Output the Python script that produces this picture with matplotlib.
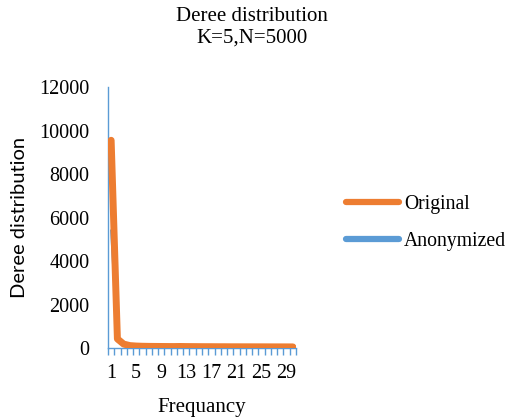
import numpy as np
import matplotlib
matplotlib.use("Agg")
import matplotlib.pyplot as plt
from matplotlib.lines import Line2D

SERIF = "Liberation Serif"
BLUE = "#5B9BD5"
ORANGE = "#ED7D31"

freq = list(range(1, 31))
original = [9550, 420, 180, 110, 90, 80, 75, 72, 70, 68, 66, 70, 66, 64, 62,
            60, 60, 58, 58, 56, 56, 55, 55, 54, 54, 53, 52, 52, 51, 50]
anonymized = [5400, 300, 120, 40, 20, 12, 8, 6, 5, 4, 4, 3, 3, 3, 2,
              2, 2, 2, 2, 2, 1, 1, 1, 1, 1, 1, 1, 1, 1, 1]
yticks = [0, 2000, 4000, 6000, 8000, 10000, 12000]

fig = plt.figure(figsize=(5.15, 4.2), dpi=100)
ax = fig.add_axes([108 / 515, 1 - 348 / 420, 188 / 515, 261 / 420])

x = np.arange(len(freq))
ax.plot(x, anonymized, color=BLUE, lw=1.5, zorder=2)
ax.plot(x, original, color=ORANGE, lw=5, solid_capstyle="round",
        solid_joinstyle="round", zorder=3)

ax.set_xlim(-0.5, len(freq) - 0.5)
ax.set_ylim(0, 12000)
ax.set_yticks(yticks)
ax.set_yticklabels([str(v) for v in yticks], fontfamily=SERIF, fontsize=14.5)
ax.set_xticks(x[::4])
ax.set_xticklabels([str(f) for f in freq[::4]], fontfamily=SERIF, fontsize=14.5)
ax.set_xticks(np.arange(-0.5, len(freq)), minor=True)
ax.tick_params(axis="y", which="major", length=0, pad=13.5)
ax.tick_params(axis="x", which="major", length=0, pad=11.5)
ax.tick_params(axis="x", which="minor", length=5, color=BLUE, width=1)

for s in ("top", "right"):
    ax.spines[s].set_visible(False)
for s in ("left", "bottom"):
    ax.spines[s].set_color(BLUE)
    ax.spines[s].set_linewidth(1)

ax.set_xlabel("Frequancy", fontfamily=SERIF, fontsize=15, labelpad=11)
ax.set_ylabel("Deree distribution", fontfamily="Lato", fontsize=14.5, labelpad=8)
fig.suptitle("Deree distribution\nK=5,N=5000", fontfamily=SERIF, fontsize=15,
             x=252 / 515, y=1 - 7 / 420, va="top", linespacing=1.2)

handles = [Line2D([], [], color=ORANGE, lw=4.5, solid_capstyle="round"),
           Line2D([], [], color=BLUE, lw=4.5, solid_capstyle="round")]
fig.legend(handles, ["Original", "Anonymized"], loc="center left",
           bbox_to_anchor=(328 / 515, 1 - 223 / 420), frameon=False,
           prop={"family": SERIF, "size": 14.2}, handlelength=2.7,
           handletextpad=0.25, labelspacing=0.95)

fig.savefig("out.png", dpi=100)
